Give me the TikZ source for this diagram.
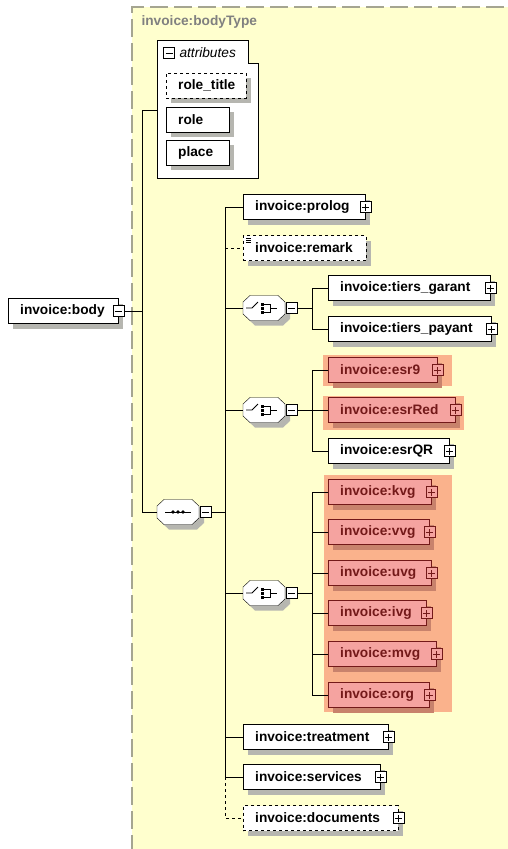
\documentclass[tikz,border=0pt]{standalone}
\usepackage{fontspec}
\setmainfont{Liberation Sans}
\usetikzlibrary{calc}

\definecolor{bgyellow}{RGB}{255,255,206}
\definecolor{bordergray}{RGB}{165,165,145}
\definecolor{hiorange}{RGB}{250,178,140}
\definecolor{redfill}{RGB}{245,163,160}
\definecolor{reddark}{RGB}{115,25,25}
\definecolor{shadowgray}{RGB}{182,182,176}
\definecolor{shadowred}{RGB}{200,130,108}

\pgfdeclarelayer{bg}
\pgfdeclarelayer{shadow}
\pgfsetlayers{bg,shadow,main}

\begin{document}
\begin{tikzpicture}[x=1pt,y=-1pt,line width=0.9pt,
	font=\fontsize{13.7}{16}\selectfont\bfseries]

	\useasboundingbox (0,0) rectangle (508,849);

	\tikzset{
		elem/.style={draw,fill=white,anchor=west,minimum height=25pt,inner xsep=12pt,inner ysep=0pt,align=left},
		opt/.style={dashed},
		hot/.style={fill=redfill,draw=reddark,text=reddark},
		signbox/.style={draw,fill=white,minimum size=11pt,inner sep=0pt},
		minusbox/.style={signbox,
			path picture={\draw[line width=0.7pt] ([xshift=2pt]path picture bounding box.west) -- ([xshift=-2pt]path picture bounding box.east);}},
		plusbox/.style={signbox,
			path picture={\draw[line width=0.7pt] ([xshift=2pt]path picture bounding box.west) -- ([xshift=-2pt]path picture bounding box.east)
				([yshift=2pt]path picture bounding box.south) -- ([yshift=-2pt]path picture bounding box.north);}},
		compositor/.style={minimum width=42pt,minimum height=25pt,inner sep=0pt}
	}

	% shadow of a box: left x, middle y, width, colour
	\def\boxshadow#1#2#3#4{\fill[#4] (#1+5,#2-7.5) rectangle +(#3,25);}

	% octagon of a compositor, around the origin
	\def\octagon{(-14,-12.5) -- (14,-12.5) -- (21,-6) -- (21,6) -- (14,12.5) -- (-14,12.5) -- (-21,6) -- (-21,-6) -- cycle}

	\def\choiceicon{%
		\draw[line width=0.8pt] (-18,0) -- (-12,0) -- (-6,-6);
		\foreach \dy in {-4,0,4} \fill (-3,\dy-1.5) rectangle +(3,3);
		\draw[line width=0.8pt] (0,-4) -| (6,4) -- (0,4) (6,0) -- (13,0);
	}

	% complex type
	\begin{pgfonlayer}{bg}
		\fill[bgyellow] (132,7) rectangle (512,853);
		\fill[hiorange] (323,355) rectangle (452,386);
		\fill[hiorange] (323,396) rectangle (464,430);
		\fill[hiorange] (324,475) rectangle (452,712);
	\end{pgfonlayer}
	\draw[bordergray,line width=1.2pt,dash pattern=on 18pt off 6pt] (132,853) |- (512,7);
	\node[anchor=west,text=gray] (typename) at (138,22) {invoice:bodyType};

	% attributes
	\draw[fill=white] (157,40) -| (248,63) -| (258,178) -| (157,40) -- cycle;
	\coordinate (attr) at (157,110);
	\node[minusbox] (attrm) at (169,53) {};
	\node[anchor=west,font=\fontsize{13.7}{16}\selectfont\itshape] (attrlabel) at (176,53) {attributes};
	\boxshadow{166}{85.5}{80}{shadowgray}
	\boxshadow{166}{119.5}{63}{shadowgray}
	\boxshadow{166}{152.5}{63}{shadowgray}
	\node[elem,opt,text width=56pt] (roletitle) at (166,85.5) {role\_title};
	\node[elem,text width=39pt] (role) at (166,119.5) {role};
	\node[elem,text width=39pt] (place) at (166,152.5) {place};

	% root element
	\boxshadow{8}{311}{110}{shadowgray}
	\node[elem,text width=86pt] (body) at (8,311) {invoice:body};
	\node[minusbox] (bodym) at (body.east) {};
	\coordinate (trunk) at (142,311);
	\draw (bodym.east) -- (trunk);
	\draw (attr) -| (trunk);

	% sequence
	\node[compositor] (seq) at (178,512) {};
	\node[minusbox,anchor=west] (seqm) at ([xshift=1pt]seq.east) {};
	\begin{scope}[shift={(seq.center)}]
		\begin{pgfonlayer}{shadow}
			\fill[shadowgray,shift={(5,5)}] \octagon;
		\end{pgfonlayer}
		\draw[fill=white] \octagon;
		\draw[line width=0.8pt] (-13,0) -- (13,0);
		\foreach \dx in {-5,0,5} \fill (\dx,0) circle (1.8pt);
	\end{scope}
	\draw (trunk) |- (seq.west);
	\coordinate (bus) at (225,512);
	\draw (seqm.east) -- (bus);

	% sequence children
	\foreach \n/\y/\w in {prolog/207/122, treatment/737/145, services/777/137} {
		\pgfmathsetmacro\tw{\w-24}
		\boxshadow{243}{\y}{\w}{shadowgray}
		\node[elem,text width=\tw pt] (\n) at (243,\y) {invoice:\n};
		\node[plusbox] (\n-p) at (\n.east) {};
		\draw (bus) |- (\n.west);
	}
	\boxshadow{243}{248}{123}{shadowgray}
	\node[elem,opt,text width=99pt] (remark) at (243,248) {invoice:remark};
	\foreach \d in {2.5,4.5,6.5}
		\draw[line width=0.6pt] ($(remark.north west)+(3,\d)$) -- +(5,0);
	\draw[dashed] (bus |- remark.west) -- (remark.west);
	\boxshadow{243}{818}{155}{shadowgray}
	\node[elem,opt,text width=131pt] (documents) at (243,818) {invoice:documents};
	\node[plusbox] (documents-p) at (documents.east) {};
	\draw[dashed] (bus |- services.west) |- (documents.west);

	% choices
	\foreach \c/\y in {c1/308, c2/410, c3/593} {
		\node[compositor] (\c) at (264,\y) {};
		\node[minusbox,anchor=west] (\c m) at ([xshift=1pt]\c.east) {};
		\begin{scope}[shift={(\c.center)}]
			\begin{pgfonlayer}{shadow}
				\fill[shadowgray,shift={(5,5)}] \octagon;
			\end{pgfonlayer}
			\draw[fill=white] \octagon;
			\choiceicon
		\end{scope}
		\draw (bus |- \c.west) -- (\c.west);
		\coordinate (\c bus) at (312,\y);
		\draw (\c m.east) -- (\c bus);
	}

	% choice 1
	\foreach \n/\t/\y/\w in {garant/tiers\_garant/288/162, payant/tiers\_payant/329/163} {
		\pgfmathsetmacro\tw{\w-24}
		\boxshadow{328}{\y}{\w}{shadowgray}
		\node[elem,text width=\tw pt] (\n) at (328,\y) {invoice:\t};
		\node[plusbox] (\n-p) at (\n.east) {};
		\draw (c1bus) |- (\n.west);
	}

	% choice 2
	\foreach \n/\y/\w/\s/\sh in {esr9/370/109/hot/shadowred, esrRed/410/127/hot/shadowred, esrQR/451/121//shadowgray} {
		\pgfmathsetmacro\tw{\w-24}
		\boxshadow{328}{\y}{\w}{\sh}
		\node[elem,\s,text width=\tw pt] (\n) at (328,\y) {invoice:\n};
		\node[plusbox,\s] (\n-p) at (\n.east) {};
		\draw (c2bus) |- (\n.west);
	}

	% choice 3
	\foreach \n/\y/\w in {kvg/492/103, vvg/532/101, uvg/573/103, ivg/613/98, mvg/654/108, org/695/101} {
		\pgfmathsetmacro\tw{\w-24}
		\boxshadow{328}{\y}{\w}{shadowred}
		\node[elem,hot,text width=\tw pt] (\n) at (328,\y) {invoice:\n};
		\node[plusbox,hot] (\n-p) at (\n.east) {};
		\draw (c3bus) |- (\n.west);
	}

\end{tikzpicture}
\end{document}
